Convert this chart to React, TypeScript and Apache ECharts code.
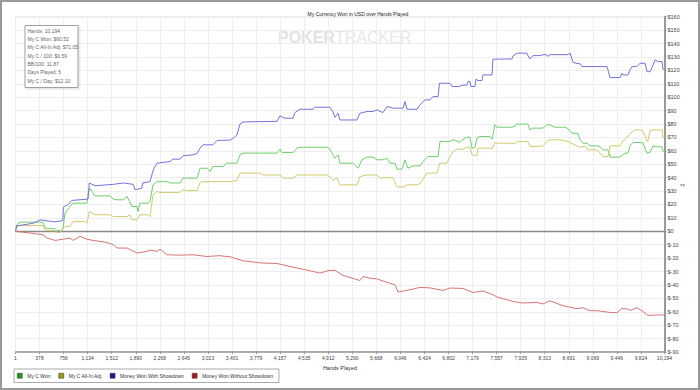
import React, { useEffect, useRef } from "react";
import * as echarts from "echarts";

const TITLE = "My Currency Won in USD over Hands Played";
const X_AXIS_NAME = "Hands Played";
const X_TICK_LABELS = [
  "1", "378", "756", "1,134", "1,512", "1,890", "2,268", "2,645", "3,023", "3,401",
  "3,779", "4,157", "4,535", "4,912", "5,290", "5,668", "6,046", "6,424", "6,802",
  "7,179", "7,557", "7,935", "8,313", "8,691", "9,069", "9,446", "9,824", "10,194",
];
const Y_MIN = -90;
const Y_MAX = 160;
const Y_STEP = 10;

const STATS_LINES = [
  "Hands: 10,194",
  "My C Won: $60.52",
  "My C All-In Adj: $71.05",
  "My C / 100: $0.59",
  "BB/100: 11.87",
  "Days Played: 5",
  "My C / Day: $12.10",
];

const SERIES_NAMES = ["My C Won", "My C All-In Adj", "Money Won With Showdown", "Money Won Without Showdown"];
const LINE_COLORS = ["#6dcf6d", "#d1cb6c", "#7272dd", "#da7474"];
const LEGEND_COLORS = ["#1f9a1f", "#9c9a10", "#1a1aa0", "#b01818"];

// [hands, USD]
const cWon: [number, number][] = [
  [1, 1], [20, 4.8], [72, 6.8], [433, 6.8], [464, 2.8], [496, 2], [621, 2], [653, 0.4], [731, 0.4],
  [752, 3.6], [778, 13.5], [857, 18.5], [904, 21], [1124, 21], [1144, 28.5], [1171, 32], [1250, 26.4],
  [1485, 26.4], [1517, 24.7], [1564, 23.5], [1694, 23.5], [1752, 26], [1831, 18.5], [1909, 18.5],
  [1925, 14.8], [1956, 21], [2082, 21], [2113, 22], [2160, 34.6], [2223, 37], [2380, 37], [2427, 36],
  [2584, 36], [2631, 39.6], [2852, 39.6], [2899, 47], [3009, 47], [3056, 44.6], [3103, 48.3],
  [3260, 48.3], [3323, 50.8], [3480, 50.8], [3527, 57], [3574, 58.3], [4107, 58.3], [4155, 61.2],
  [4186, 58.7], [4359, 58.7], [4422, 62], [4469, 62.7], [4893, 62.7], [4940, 61], [5018, 54.5],
  [5066, 57], [5097, 50.8], [5301, 50.8], [5380, 47], [5443, 53.3], [5521, 55.3], [5616, 55.3],
  [5678, 53.3], [5773, 53.3], [5836, 54.5], [5883, 50.8], [5962, 50.8], [5993, 46.3], [6071, 46.3],
  [6118, 53.3], [6165, 47], [6244, 48.8], [6354, 48.8], [6401, 52], [6480, 55.7], [6637, 55.7],
  [6668, 67], [6826, 67], [6873, 68.2], [6982, 66.5], [7029, 68.5], [7092, 70.2], [7139, 70.2],
  [7170, 62], [7218, 62.5], [7249, 69.5], [7296, 70.7], [7453, 70.7], [7485, 68.7], [7532, 79.4],
  [7563, 77.6], [7799, 77.6], [7846, 78.5], [7877, 79.9], [8050, 79.9], [8081, 75.6], [8128, 76.9],
  [8285, 76.9], [8348, 79.4], [8395, 79.4], [8474, 77.6], [8631, 77.6], [8678, 76.5], [8741, 73.2],
  [8835, 73], [8867, 68.2], [8914, 65.7], [8977, 65.7], [9024, 63.7], [9134, 63.7], [9181, 63],
  [9228, 60.7], [9307, 60.7], [9338, 55.3], [9495, 55.3], [9527, 56.5], [9574, 58.3], [9621, 58.3],
  [9652, 63.7], [9699, 66.2], [9809, 66.2], [9856, 65.8], [9919, 58.3], [9966, 58.8], [10013, 63.7],
  [10076, 63], [10155, 63], [10170, 59.5], [10194, 60.5],
];

const allInAdj: [number, number][] = [
  [1, 1], [20, 3.6], [72, 4.3], [433, 4.3], [464, 1], [496, 0.5], [621, 0.5], [653, -0.9], [700, -0.9],
  [731, 1], [778, 3.6], [857, 3.6], [904, 7.3], [1092, 7.3], [1124, 6], [1160, 14.8], [1250, 12.3],
  [1485, 12.3], [1537, 11], [1752, 11], [1799, 12.3], [1831, 8.6], [1909, 8.6], [1956, 12.3],
  [2082, 12.3], [2113, 11], [2160, 27], [2223, 29.7], [2270, 29], [2584, 29], [2631, 31], [2694, 30.4],
  [2852, 30.4], [2899, 36.4], [2946, 37], [3370, 37], [3480, 37.9], [3527, 43.4], [3574, 43.4],
  [3841, 43.4], [3888, 42], [4155, 42], [4202, 39.6], [4359, 39.6], [4422, 42], [4893, 42],
  [4940, 40.5], [4987, 37.9], [5050, 40], [5097, 34.6], [5364, 34.6], [5411, 40.8], [5521, 42],
  [5678, 42], [5726, 39.5], [5773, 40], [5930, 40], [5993, 33], [6087, 33], [6150, 34.6], [6307, 34.6],
  [6354, 35.5], [6464, 43.4], [6621, 43.4], [6668, 50.8], [6778, 50.8], [6826, 55.7], [6873, 59.5],
  [6935, 61.2], [7029, 61.2], [7092, 62.7], [7139, 62.7], [7170, 57], [7249, 56.5], [7265, 62],
  [7453, 62], [7485, 61.5], [7532, 66.2], [7563, 65.7], [7799, 65.7], [7846, 65.3], [7877, 66.9],
  [8050, 66.9], [8081, 63.2], [8285, 63.5], [8348, 66.9], [8395, 68.2], [8552, 68.2], [8600, 67.8],
  [8678, 67], [8757, 65], [8867, 62.7], [8945, 63.5], [8992, 60.7], [9134, 60.7], [9181, 58.3],
  [9228, 55.7], [9307, 55.7], [9338, 63.7], [9495, 63.7], [9527, 66.9], [9574, 68.2], [9652, 72.7],
  [9731, 75.6], [9809, 75.6], [9856, 74.8], [9919, 67], [9935, 67.5], [9966, 75], [10013, 75.6],
  [10155, 75.6], [10170, 70], [10194, 71],
];

const withShowdown: [number, number][] = [
  [1, 0], [20, 4], [281, 6], [386, 8.5], [464, 8], [621, 7], [745, 8], [752, 18], [830, 20], [884, 23],
  [1140, 24], [1160, 36], [1250, 34], [1537, 35], [1694, 36], [1851, 35], [1878, 31], [1983, 32],
  [1999, 36], [2113, 37], [2165, 45.8], [2223, 50.8], [2427, 52], [2474, 53.8], [2584, 53.8],
  [2631, 56.3], [2789, 57], [2852, 58], [2899, 62], [2946, 64.5], [3103, 64.5], [3166, 67.7],
  [3370, 68], [3417, 69.4], [3480, 71.9], [3527, 80], [3574, 81.5], [4107, 82], [4155, 86],
  [4233, 84.3], [4359, 84.3], [4390, 88.5], [4469, 91], [4673, 91], [4704, 92.5], [4940, 92.5],
  [4987, 89], [5018, 85], [5066, 88], [5097, 83], [5364, 83], [5411, 88], [5521, 89.3], [5616, 89.3],
  [5678, 90.5], [5773, 88.5], [5836, 93], [5930, 91.8], [6087, 91.8], [6118, 96.7], [6150, 91],
  [6307, 91], [6354, 94.3], [6432, 98], [6511, 98], [6558, 100.4], [6637, 100.4], [6660, 110.4],
  [6826, 110.4], [6857, 108], [6982, 108], [7014, 109], [7092, 109], [7108, 111.6], [7139, 111.6],
  [7155, 108], [7218, 108], [7233, 113.4], [7265, 112.4], [7327, 112.4], [7343, 116.6], [7485, 116.6],
  [7500, 128.3], [7799, 128.5], [7815, 130.8], [7877, 132.8], [8034, 132.8], [8050, 131], [8081, 128.5],
  [8128, 131], [8238, 131], [8317, 132], [8364, 130.5], [8395, 131.7], [8678, 131.7], [8710, 133],
  [8757, 126], [8820, 125], [8867, 125], [8898, 122.8], [9291, 122.8], [9307, 120.3], [9338, 114.6],
  [9495, 114.6], [9527, 117.9], [9542, 116.6], [9621, 116.6], [9652, 120.3], [9684, 122.8],
  [9762, 122.8], [9809, 125.3], [9888, 125.3], [9919, 119], [9966, 119], [9998, 122], [10045, 127.8],
  [10092, 126.5], [10155, 126.5], [10170, 121], [10194, 120.8],
];

const withoutShowdown: [number, number][] = [
  [1, 0], [182, -1], [433, -2.6], [496, -5], [621, -6.8], [747, -5.9], [857, -5], [904, -6.8],
  [1014, -3.8], [1124, -5.9], [1218, -6.8], [1438, -8.3], [1537, -10], [1595, -12.5], [1752, -12.5],
  [1909, -16.2], [2066, -15], [2113, -14], [2223, -15], [2270, -13.3], [2380, -17.5], [2584, -17.8],
  [2789, -17.5], [3009, -18.8], [3200, -18.2], [3370, -19], [3574, -22], [3888, -23.7], [4107, -24],
  [4422, -27.4], [4626, -29.4], [4783, -31.2], [4909, -29.4], [5018, -29], [5144, -32.9],
  [5411, -36.7], [5459, -33.7], [5569, -35], [5678, -35.5], [5836, -38.1], [5962, -39.9],
  [6009, -45.3], [6197, -43.6], [6354, -41.8], [6511, -42.2], [6715, -44.1], [6826, -42.3],
  [7029, -42.6], [7186, -45.6], [7343, -44.5], [7500, -47.3], [7563, -49], [7815, -52.3],
  [7972, -53.5], [8191, -53], [8285, -54.2], [8395, -51.8], [8600, -55.5], [8820, -57.7],
  [8914, -57], [9024, -59.2], [9134, -59.2], [9228, -59.8], [9338, -60.5], [9448, -60.8],
  [9527, -57.5], [9621, -58], [9652, -59], [9762, -57], [9856, -59.8], [9935, -62.7],
  [10013, -62.5], [10194, -62.3],
];

const SERIES_DATA = [cWon, allInAdj, withShowdown, withoutShowdown];

const FONT = "'Liberation Sans', Arial, sans-serif";

export default function App() {
  const ref = useRef<HTMLDivElement>(null);

  useEffect(() => {
    if (!ref.current) return;
    const chart = echarts.init(ref.current, undefined, { renderer: "svg" });
    const tickValues = X_TICK_LABELS.map((s) => parseInt(s.replace(/,/g, ""), 10));
    const labelFor = (v: number) => {
      const i = tickValues.indexOf(v);
      return i >= 0 ? X_TICK_LABELS[i] : "";
    };

    const series: any[] = SERIES_NAMES.map((name, i) => ({
      name,
      type: "line",
      data: SERIES_DATA[i],
      showSymbol: false,
      symbol: "none",
      z: 3 + i,
      itemStyle: { color: LINE_COLORS[i] },
      lineStyle: { color: LINE_COLORS[i], width: 1 },
      emphasis: { disabled: true },
    }));
    series[3].markLine = {
      silent: true,
      symbol: "none",
      label: { show: false },
      lineStyle: { color: "#8a8a8a", width: 1.3, type: "solid" },
      data: [{ yAxis: 0 }],
      z: 2,
    };

    const option: any = {
      animation: false,
      backgroundColor: "#ffffff",
      textStyle: { fontFamily: FONT },
      title: {
        text: TITLE,
        left: 353,
        top: 6,
        textAlign: "center",
        textStyle: { fontSize: 5, fontWeight: "normal", color: "#222", fontFamily: FONT },
      },
      grid: {
        left: 15.5,
        right: 35.5,
        top: 16.7,
        bottom: 38,
        show: true,
        borderColor: "#a8a8a8",
        borderWidth: 1,
        outerBoundsMode: "none",
      },
      legend: {
        left: 14,
        top: 369,
        orient: "horizontal",
        icon: "rect",
        itemWidth: 5,
        itemHeight: 5,
        itemGap: 8,
        padding: [4, 6, 4, 3],
        borderColor: "#aaaaaa",
        borderWidth: 1,
        selectedMode: false,
        textStyle: { fontSize: 5, color: "#333", fontFamily: FONT },
        data: SERIES_NAMES.map((n, i) => ({
          name: n,
          itemStyle: { color: LEGEND_COLORS[i], borderColor: "#333", borderWidth: 0.5 },
        })),
      },
      xAxis: {
        type: "value",
        min: tickValues[0],
        max: tickValues[tickValues.length - 1],
        name: X_AXIS_NAME,
        nameLocation: "middle",
        nameGap: 12,
        nameTextStyle: { fontSize: 5.5, color: "#333", fontFamily: FONT },
        axisLine: { show: true, onZero: false, lineStyle: { color: "#999", width: 1.5 } },
        axisTick: { show: true, length: 2, lineStyle: { color: "#999" }, customValues: tickValues },
        axisLabel: {
          show: true,
          margin: 3,
          fontSize: 5,
          color: "#444",
          fontFamily: FONT,
          customValues: tickValues,
          formatter: (v: number) => labelFor(v),
        },
        splitLine: { show: true, lineStyle: { color: "#eeeeee", width: 1 } },
      },
      yAxis: {
        type: "value",
        position: "right",
        min: Y_MIN,
        max: Y_MAX,
        interval: Y_STEP,
        axisLine: { show: true, onZero: false, lineStyle: { color: "#999", width: 2 } },
        axisTick: { show: true, length: 2, lineStyle: { color: "#999" } },
        axisLabel: {
          margin: 3,
          fontSize: 5.5,
          color: "#444",
          fontFamily: FONT,
          formatter: (v: number) => "$" + v,
        },
        splitLine: { show: true, lineStyle: { color: "#eeeeee", width: 1 } },
      },
      graphic: [
        {
          type: "rect",
          z: -10,
          silent: true,
          shape: { x: 1, y: 1, width: 698, height: 388 },
          style: { fill: "none", stroke: "#9a9a9a", lineWidth: 2 },
        },
        {
          type: "text",
          silent: true,
          z: 0,
          left: 278,
          top: 29,
          style: {
            text: "{a|POKER}{b|TRACKER}",
            rich: {
              a: { fontSize: 16, fontWeight: "bold", fill: "#e2e2e2", fontFamily: "'Liberation Sans Narrow', 'Liberation Sans', sans-serif" },
              b: { fontSize: 16, fontWeight: "normal", fill: "#e8e8e8", fontFamily: "'Liberation Sans Narrow', 'Liberation Sans', sans-serif" },
            },
          },
        },
        {
          type: "rect",
          z: 100,
          silent: true,
          shape: { x: 25, y: 25.5, width: 53, height: 62 },
          style: {
            fill: "#ffffff",
            stroke: "#a0a0a0",
            lineWidth: 1,
            shadowBlur: 2,
            shadowColor: "rgba(0,0,0,0.15)",
            shadowOffsetX: 1,
            shadowOffsetY: 1,
          },
        },
        ...STATS_LINES.map((t, i) => ({
          type: "text",
          z: 101,
          silent: true,
          x: 27.5,
          y: 30.7 + i * 8.33,
          style: {
            text: t,
            fontSize: 5,
            fill: "#666",
            fontFamily: FONT,
            verticalAlign: "middle",
          },
        })),
        {
          type: "text",
          left: 680,
          top: 181,
          silent: true,
          style: { text: "⇔", fontSize: 6, fill: "#555", fontFamily: "'DejaVu Sans', sans-serif" },
        },
      ],
      series,
    };

    chart.setOption(option);
    return () => chart.dispose();
  }, []);

  return (
    <div
      ref={ref}
      style={{ position: "fixed", left: 0, top: 0, width: 700, height: 390, background: "#fff" }}
    />
  );
}
